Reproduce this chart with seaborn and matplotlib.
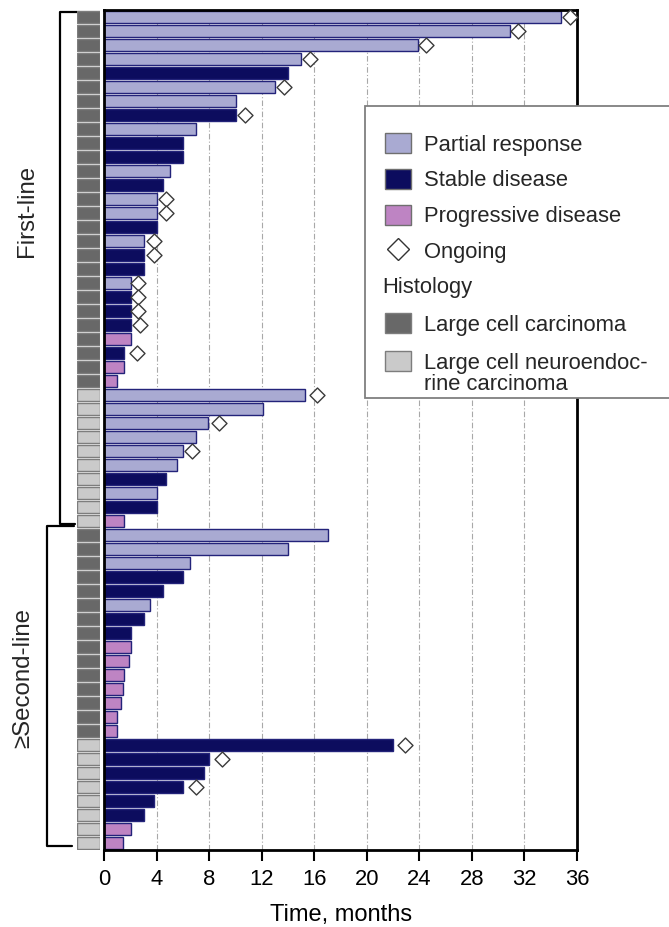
import numpy as np
import pandas as pd
import seaborn as sns
import matplotlib.pyplot as plt
from matplotlib.patches import Patch, Rectangle
from matplotlib.lines import Line2D
from matplotlib.transforms import blended_transform_factory

# ---- data -------------------------------------------------------------
treatment_line = ["First-line"] * 37 + ["≥Second-line"] * 23

histology = (["Large cell carcinoma"] * 27
             + ["Large cell neuroendocrine carcinoma"] * 10
             + ["Large cell carcinoma"] * 15
             + ["Large cell neuroendocrine carcinoma"] * 8)

months = [34.8, 30.9, 23.9, 15.0, 14.0, 13.0, 10.0, 10.0, 7.0, 6.0,
          6.0, 5.0, 4.5, 4.0, 4.0, 4.0, 3.0, 3.0, 3.0, 2.0,
          2.0, 2.0, 2.0, 2.0, 1.5, 1.5, 1.0,
          15.3, 12.1, 7.9, 7.0, 6.0, 5.5, 4.7, 4.0, 4.0, 1.5,
          17.0, 14.0, 6.5, 6.0, 4.5, 3.5, 3.0, 2.0, 2.0, 1.9,
          1.5, 1.4, 1.3, 1.0, 1.0,
          22.0, 8.0, 7.6, 6.0, 3.8, 3.0, 2.0, 1.4]

response = (["PR", "PR", "PR", "PR", "SD", "PR", "PR", "SD", "PR", "SD",
             "SD", "PR", "SD", "PR", "PR", "SD", "PR", "SD", "SD", "PR",
             "SD", "SD", "SD", "PD", "SD", "PD", "PD"]
            + ["PR", "PR", "PR", "PR", "PR", "PR", "SD", "PR", "SD", "PD"]
            + ["PR", "PR", "PR", "SD", "SD", "PR", "SD", "SD", "PD", "PD",
               "PD", "PD", "PD", "PD", "PD"]
            + ["SD", "SD", "SD", "SD", "SD", "SD", "PD", "PD"])

nan = np.nan
ongoing_marker = [35.5, 31.5, 24.5, 15.7, nan, 13.7, nan, 10.75, nan, nan,
                  nan, nan, nan, 4.7, 4.7, nan, 3.75, 3.75, nan, 2.6,
                  2.6, 2.6, 2.7, nan, 2.5, nan, nan,
                  16.2, nan, 8.7, nan, 6.7, nan, nan, nan, nan, nan,
                  nan, nan, nan, nan, nan, nan, nan, nan, nan, nan,
                  nan, nan, nan, nan, nan,
                  22.9, 9.0, nan, 7.0, nan, nan, nan, nan]

response_labels = {"PR": "Partial response", "SD": "Stable disease",
                   "PD": "Progressive disease"}
response_colors = {"PR": "#a9aad2", "SD": "#0c0c5e", "PD": "#be84c3"}
histology_colors = {"Large cell carcinoma": "#686868",
                    "Large cell neuroendocrine carcinoma": "#cacaca"}

df = pd.DataFrame({
    "row": np.arange(len(months)),
    "months": months,
    "response": response,
    "histology": histology,
    "line": treatment_line,
    "ongoing": ongoing_marker,
    "unit": 1.0,
})

# ---- figure -----------------------------------------------------------
W, H = 669, 927
sns.set_theme(style="white")
plt.rcParams["font.family"] = ["Liberation Sans", "DejaVu Sans"]

fig = plt.figure(figsize=(W / 100, H / 100), dpi=100)


def px_rect(x0, y0, x1, y1):
    return [x0 / W, 1 - y1 / H, (x1 - x0) / W, (y1 - y0) / H]


ax = fig.add_axes(px_rect(104.3, 10, 577, 850))
hx = fig.add_axes(px_rect(77, 10, 100, 850))

order = list(df["row"])

sns.barplot(data=df, x="months", y="row", hue="response", orient="y",
            order=order, hue_order=["PR", "SD", "PD"],
            palette=response_colors, dodge=False, width=0.83,
            saturation=1, errorbar=None, edgecolor="#23237a",
            linewidth=1.0, legend=False, ax=ax, zorder=2)

sns.scatterplot(data=df.dropna(subset=["ongoing"]), x="ongoing", y="row",
                marker="D", s=58, color="white", edgecolor="#3a3a3a",
                linewidth=1.0, legend=False, ax=ax, zorder=4, clip_on=False)

ax.set_xlim(0, 36)
ax.set_ylim(len(months) - 0.5, -0.5)
ax.set_xticks(range(0, 37, 4))
ax.grid(axis="x", color="#a8a8a8", lw=0.8, linestyle=(0, (5, 2, 1, 2)))
ax.grid(axis="y", visible=False)
ax.set_axisbelow(True)
ax.tick_params(axis="x", bottom=True, direction="out", length=8, width=1.5,
               labelsize=15.8, pad=6, colors="black")
ax.tick_params(axis="y", left=False, labelleft=False)
ax.set_ylabel("")
ax.set_xlabel("Time, months", fontsize=17, labelpad=10, color="black")
for s in ax.spines.values():
    s.set_visible(True)
    s.set_color("black")
    s.set_linewidth(2)

# histology strip
sns.barplot(data=df, x="unit", y="row", hue="histology", orient="y",
            order=order,
            hue_order=list(histology_colors.keys()),
            palette=histology_colors, dodge=False, width=0.84,
            saturation=1, errorbar=None, edgecolor="#7d7d7d",
            linewidth=1.0, legend=False, ax=hx)
hx.set_xlim(0, 1)
hx.set_ylim(len(months) - 0.5, -0.5)
hx.axis("off")

# treatment-line brackets
tr = blended_transform_factory(fig.transFigure, ax.transData)


def ydata(px):
    return (px - 9.7) / 14.0 - 0.5


ax.plot(np.array([77, 60, 60, 75]) / W,
        [ydata(12), ydata(12), ydata(524), ydata(524)],
        transform=tr, clip_on=False, color="black", lw=1.6)
ax.plot(np.array([74, 47, 47, 72]) / W,
        [ydata(526), ydata(526), ydata(846), ydata(846)],
        transform=tr, clip_on=False, color="black", lw=1.6)

fig.text(27 / W, 1 - 211 / H, "First-line", rotation=90, ha="center",
         va="center", fontsize=17.3)
fig.text(23 / W, 1 - 678 / H, "≥Second-line", rotation=90, ha="center",
         va="center", fontsize=17.3)

# legend
fig.patches.append(Rectangle((365 / W, 1 - 398 / H), (720 - 365) / W,
                             (398 - 106) / H, transform=fig.transFigure,
                             facecolor="white", edgecolor="#7f7f7f",
                             lw=1.3, zorder=2))

resp_handles = [Patch(facecolor=response_colors[k], edgecolor="#6f6f6f",
                      lw=1.0) for k in ["PR", "SD", "PD"]]
resp_handles.append(Line2D([], [], marker="D", ls="none", ms=11,
                           mfc="white", mec="#333333", mew=1.0))
resp_names = [response_labels[k] for k in ["PR", "SD", "PD"]] + ["Ongoing"]

leg_kw = dict(loc="upper left", frameon=False, fontsize=15.8,
              handlelength=1.19, handleheight=1.05, handletextpad=0.6,
              labelspacing=0.6, borderpad=0, borderaxespad=0,
              bbox_transform=fig.transFigure)

fig.legend(resp_handles, resp_names, bbox_to_anchor=(385 / W, 1 - 133 / H),
           **leg_kw)

fig.text(382 / W, 1 - 288 / H, "Histology", ha="left", va="center",
         fontsize=15.8, zorder=6)

hist_handles = [Patch(facecolor=c, edgecolor="#7d7d7d", lw=1.0)
                for c in histology_colors.values()]
hist_kw = dict(leg_kw, labelspacing=0.7)
fig.legend(hist_handles, ["Large cell carcinoma", "Large cell neuroendoc-"],
           bbox_to_anchor=(385 / W, 1 - 313 / H), **hist_kw)
fig.text(424 / W, 1 - 385 / H, "rine carcinoma", ha="left", va="center",
         fontsize=15.8, zorder=6)

fig.savefig("out.png", dpi=100)
